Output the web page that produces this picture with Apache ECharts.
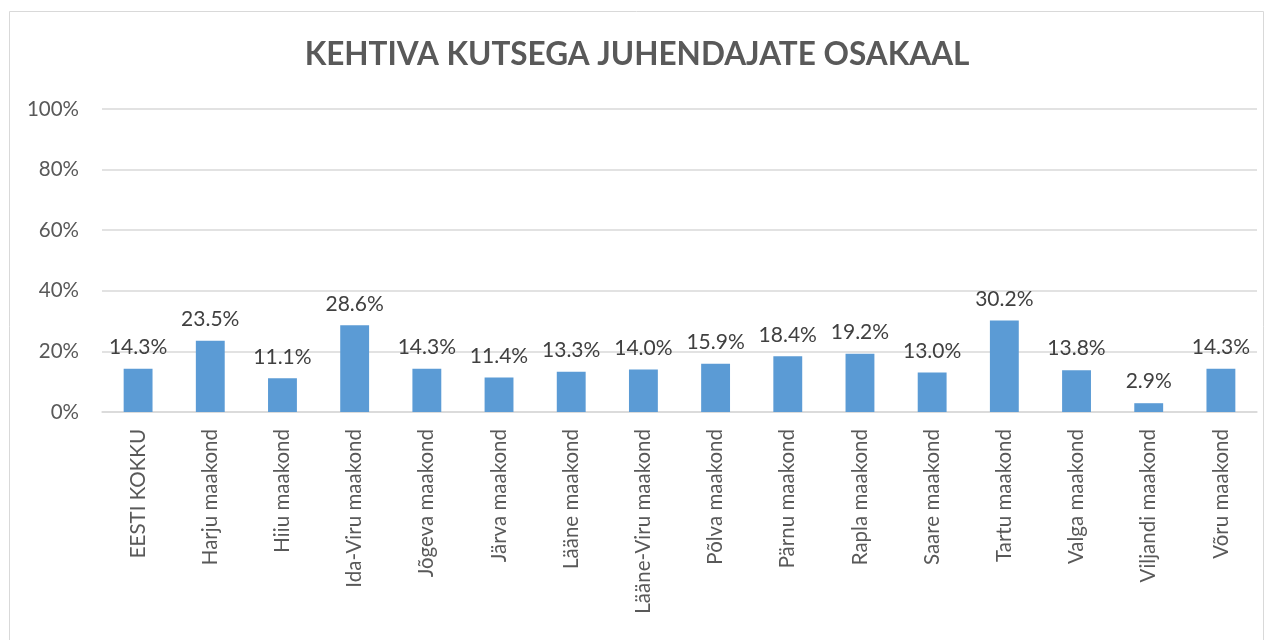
<!DOCTYPE html>
<html>
<head>
<meta charset="utf-8">
<script src="https://cdn.jsdelivr.net/npm/echarts@6/dist/echarts.min.js"></script>
<style>
  html, body { margin: 0; padding: 0; background: #fff; }
  #chart { width: 1274px; height: 640px; }
</style>
</head>
<body>
<div id="chart"></div>
<script>
const categories = [
  "EESTI KOKKU", "Harju maakond", "Hiiu maakond", "Ida-Viru maakond",
  "Jõgeva maakond", "Järva maakond", "Lääne maakond", "Lääne-Viru maakond",
  "Põlva maakond", "Pärnu maakond", "Rapla maakond", "Saare maakond",
  "Tartu maakond", "Valga maakond", "Viljandi maakond", "Võru maakond"
];
const shares = [14.3, 23.5, 11.1, 28.6, 14.3, 11.4, 13.3, 14.0, 15.9, 18.4, 19.2, 13.0, 30.2, 13.8, 2.9, 14.3];
const titleText = "KEHTIVA KUTSEGA JUHENDAJATE OSAKAAL";

const font = "Lato, 'Open Sans', sans-serif";
const chart = echarts.init(document.getElementById("chart"));
chart.setOption({
  animation: false,
  textStyle: { fontFamily: font },
  graphic: [{
    type: "rect",
    shape: { x: 9.5, y: 11.5, width: 1254, height: 700 },
    style: { fill: "none", stroke: "#d9d9d9", lineWidth: 1 }
  }],
  title: {
    text: titleText,
    left: "center",
    top: 34,
    textStyle: { fontFamily: font, fontSize: 31.5, fontWeight: "bold", color: "#595959" }
  },
  grid: { left: 102, right: 17, top: 109, bottom: 228 },
  xAxis: {
    type: "category",
    data: categories,
    axisTick: { show: false },
    axisLine: { lineStyle: { color: "#d9d9d9", width: 1.5 } },
    axisLabel: {
      rotate: 90,
      margin: 17,
      interval: 0,
      fontSize: 20.5,
      color: "#595959",
      fontFamily: font
    }
  },
  yAxis: {
    type: "value",
    min: 0,
    max: 100,
    interval: 20,
    axisLine: { show: false },
    axisTick: { show: false },
    splitLine: { lineStyle: { color: "#d9d9d9", width: 1.5 } },
    axisLabel: {
      margin: 23,
      fontSize: 20.5,
      color: "#595959",
      fontFamily: font,
      formatter: "{value}%"
    }
  },
  series: [{
    type: "bar",
    data: shares,
    barWidth: "40%",
    itemStyle: { color: "#5b9bd5" },
    label: {
      show: true,
      position: "top",
      distance: 11,
      fontSize: 21,
      color: "#404040",
      fontFamily: font,
      formatter: p => p.value.toFixed(1) + "%"
    }
  }]
});
</script>
</body>
</html>
